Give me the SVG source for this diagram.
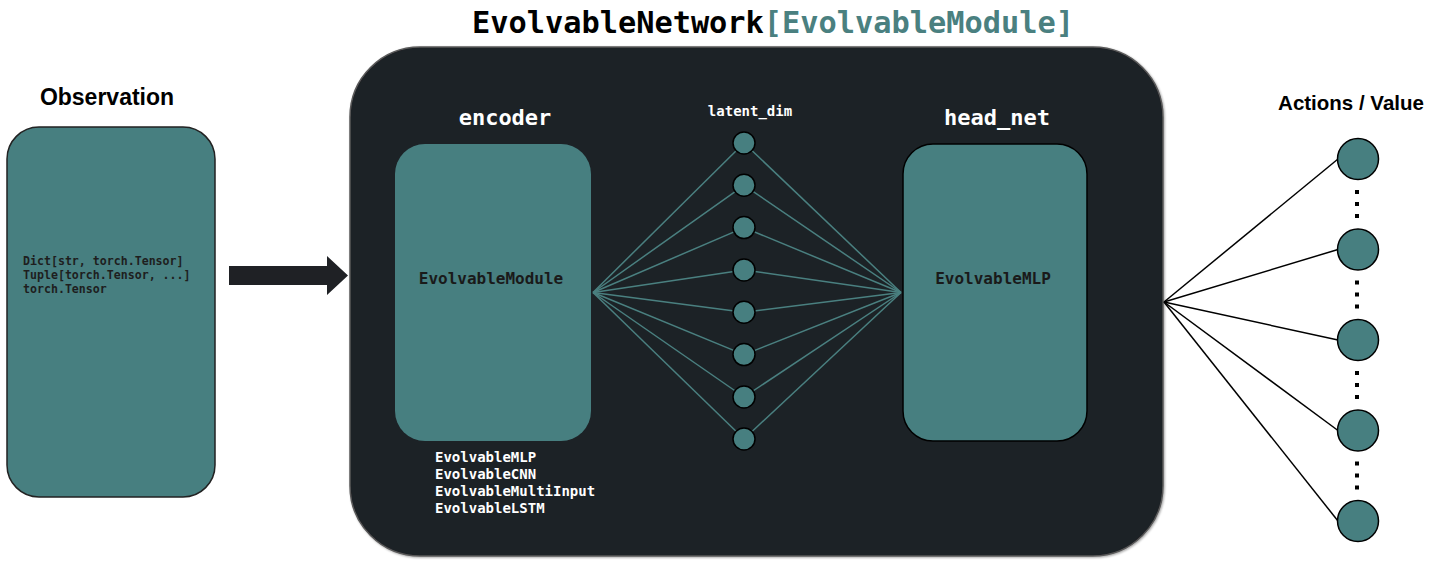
<svg xmlns="http://www.w3.org/2000/svg" width="1431" height="570" viewBox="0 0 1431 570">
<style>
.teal{fill:#477f80}
.mono{font-family:"DejaVu Sans Mono","Liberation Mono",monospace;font-weight:bold}
.sans{font-family:"Liberation Sans",Arial,sans-serif;font-weight:bold}
.lat{fill:#477f80;stroke:#000;stroke-width:1.5}
.out{fill:#477f80;stroke:#000;stroke-width:1.5}
.tl{stroke:#4a8080;stroke-width:1.5;fill:none}
.bl{stroke:#000;stroke-width:1.5;fill:none}
.dots{stroke:#000;stroke-width:4;stroke-dasharray:4 8}
</style>
<defs>
<filter id="sh" x="-5%" y="-5%" width="110%" height="110%"><feDropShadow dx="1" dy="1" stdDeviation="1.2" flood-color="#000" flood-opacity="0.35"/></filter>
</defs>
<rect width="1431" height="570" fill="#fff"/>
<text x="472" y="33" class="mono" font-size="30.3" fill="#000">EvolvableNetwork<tspan fill="#4a8080">[EvolvableModule]</tspan></text>

<g id="observation">
<text x="107" y="105" class="sans" font-size="23" text-anchor="middle" fill="#000">Observation</text>
<rect x="7" y="127" width="208" height="370" rx="32" class="teal" stroke="#222" stroke-width="1.5"/>
<text class="mono" font-size="11.6" fill="#1e1e1e"><tspan x="23" y="265">Dict[str, torch.Tensor]</tspan><tspan x="23" y="279">Tuple[torch.Tensor, ...]</tspan><tspan x="23" y="293">torch.Tensor</tspan></text>
</g>

<g id="input-arrow">
<polygon points="229,266 327,266 327,256 348,275.5 327,295 327,285 229,285" fill="#1f2125"/>
</g>

<g id="network">
<rect x="350" y="47" width="813" height="509" rx="70" fill="#1f2125" stroke="#5a5a5a" stroke-width="1.5" filter="url(#sh)"/>
</g>

<g id="encoder">
<text x="505" y="125" class="mono" font-size="22" text-anchor="middle" fill="#fff">encoder</text>
<rect x="395" y="144" width="196" height="297" rx="30" class="teal"/>
<text x="491" y="284" class="mono" font-size="16" text-anchor="middle" fill="#1a1a1a">EvolvableModule</text>
<text class="mono" font-size="14" fill="#fff"><tspan x="435" y="462">EvolvableMLP</tspan><tspan x="435" y="479">EvolvableCNN</tspan><tspan x="435" y="496">EvolvableMultiInput</tspan><tspan x="435" y="513">EvolvableLSTM</tspan></text>
</g>

<g id="connectors">
<g class="tl">
<line x1="593" y1="292.5" x2="744" y2="143"/>
<line x1="593" y1="292.5" x2="744" y2="185.3"/>
<line x1="593" y1="292.5" x2="744" y2="227.6"/>
<line x1="593" y1="292.5" x2="744" y2="270"/>
<line x1="593" y1="292.5" x2="744" y2="312.3"/>
<line x1="593" y1="292.5" x2="744" y2="354.6"/>
<line x1="593" y1="292.5" x2="744" y2="397"/>
<line x1="593" y1="292.5" x2="744" y2="439"/>
<line x1="901" y1="292.5" x2="744" y2="143"/>
<line x1="901" y1="292.5" x2="744" y2="185.3"/>
<line x1="901" y1="292.5" x2="744" y2="227.6"/>
<line x1="901" y1="292.5" x2="744" y2="270"/>
<line x1="901" y1="292.5" x2="744" y2="312.3"/>
<line x1="901" y1="292.5" x2="744" y2="354.6"/>
<line x1="901" y1="292.5" x2="744" y2="397"/>
<line x1="901" y1="292.5" x2="744" y2="439"/>
</g>
<g class="bl">
<line x1="1164" y1="302" x2="1338" y2="159"/>
<line x1="1164" y1="302" x2="1338" y2="249.5"/>
<line x1="1164" y1="302" x2="1338" y2="340"/>
<line x1="1164" y1="302" x2="1338" y2="430.5"/>
<line x1="1164" y1="302" x2="1338" y2="521"/>
</g>
</g>

<g id="latent">
<text x="750" y="116" class="mono" font-size="14" text-anchor="middle" fill="#fff">latent_dim</text>
<circle cx="744" cy="143" r="11" class="lat"/>
<circle cx="744" cy="185.3" r="11" class="lat"/>
<circle cx="744" cy="227.6" r="11" class="lat"/>
<circle cx="744" cy="270" r="11" class="lat"/>
<circle cx="744" cy="312.3" r="11" class="lat"/>
<circle cx="744" cy="354.6" r="11" class="lat"/>
<circle cx="744" cy="397" r="11" class="lat"/>
<circle cx="744" cy="439" r="11" class="lat"/>
</g>

<g id="head_net">
<text x="997" y="125" class="mono" font-size="22" text-anchor="middle" fill="#fff">head_net</text>
<rect x="903" y="144" width="184" height="297" rx="30" class="teal" stroke="#000" stroke-width="1.5"/>
<text x="993" y="284" class="mono" font-size="16" text-anchor="middle" fill="#1a1a1a">EvolvableMLP</text>
</g>

<g id="outputs">
<text x="1351" y="110" class="sans" font-size="20.5" text-anchor="middle" fill="#000">Actions / Value</text>
<circle cx="1358" cy="159" r="20.5" class="out"/>
<circle cx="1358" cy="249.5" r="20.5" class="out"/>
<circle cx="1358" cy="340" r="20.5" class="out"/>
<circle cx="1358" cy="430.5" r="20.5" class="out"/>
<circle cx="1358" cy="521" r="20.5" class="out"/>
<line x1="1357" y1="190" x2="1357" y2="222" class="dots"/>
<line x1="1357" y1="280.5" x2="1357" y2="312.5" class="dots"/>
<line x1="1357" y1="371" x2="1357" y2="403" class="dots"/>
<line x1="1357" y1="461.5" x2="1357" y2="493.5" class="dots"/>
</g>
</svg>
